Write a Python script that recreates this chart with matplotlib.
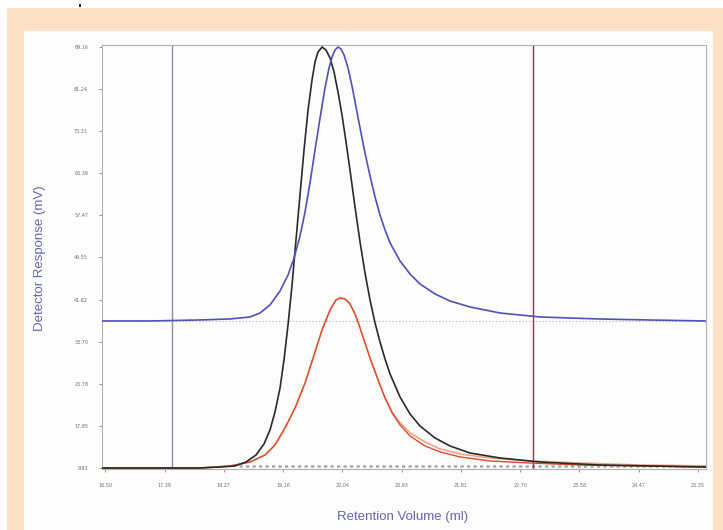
import numpy as np
import matplotlib
matplotlib.use("Agg")
import matplotlib.pyplot as plt
from matplotlib.patches import Rectangle

# tick labels
x_ticks = [16.50, 17.39, 18.27, 19.16, 20.04, 20.93, 21.81, 22.70, 23.58, 24.47, 25.35]
y_ticks = [9.93, 17.85, 25.78, 33.70, 41.62, 49.55, 57.47, 65.39, 73.31, 81.24, 89.16]

# blue trace (retention volume ml, mV)
blue_x = [16.455, 17.171, 17.918, 18.365, 18.664, 18.813, 18.962, 19.112, 19.231, 19.321,
          19.410, 19.485, 19.559, 19.634, 19.709, 19.783, 19.843, 19.888, 19.933, 19.977,
          20.022, 20.067, 20.127, 20.186, 20.246, 20.306, 20.380, 20.455, 20.530, 20.604,
          20.679, 20.754, 20.903, 21.052, 21.201, 21.425, 21.649, 21.948, 22.396, 22.993,
          23.888, 24.634, 25.469]
blue_y = [37.60, 37.60, 37.79, 37.98, 38.35, 39.10, 40.61, 43.24, 46.25, 49.45,
          53.59, 58.11, 63.57, 69.78, 75.80, 81.45, 85.21, 87.28, 88.60, 89.16,
          88.79, 87.66, 85.21, 81.82, 77.87, 73.92, 69.21, 64.88, 60.93, 57.54,
          54.72, 52.28, 48.89, 46.44, 44.56, 42.68, 41.36, 40.23, 39.10, 38.35,
          37.97, 37.78, 37.60]

# black trace
black_x = [16.455, 17.918, 18.216, 18.440, 18.604, 18.754, 18.873, 18.962, 19.037, 19.112,
           19.171, 19.231, 19.291, 19.350, 19.410, 19.470, 19.530, 19.589, 19.634, 19.679,
           19.739, 19.798, 19.858, 19.918, 19.977, 20.037, 20.097, 20.156, 20.231, 20.306,
           20.380, 20.455, 20.530, 20.604, 20.679, 20.754, 20.903, 21.052, 21.201, 21.425,
           21.649, 21.948, 22.396, 22.993, 23.888, 25.469]
black_y = [9.93, 9.93, 10.12, 10.31, 11.06, 12.38, 14.45, 17.08, 20.47, 24.99,
           30.26, 36.84, 44.37, 52.84, 61.31, 69.78, 77.31, 82.95, 86.34, 88.22,
           89.16, 88.60, 87.09, 84.46, 80.69, 76.36, 71.28, 66.01, 59.05, 52.46,
           46.63, 41.55, 37.22, 33.64, 30.44, 27.62, 23.29, 20.09, 17.83, 15.58,
           14.07, 12.75, 11.81, 11.06, 10.49, 10.12]

# red traces
red_x = [16.455, 17.918, 18.365, 18.664, 18.888, 19.037, 19.186, 19.336, 19.485, 19.634,
         19.739, 19.858, 19.948, 20.007, 20.082, 20.156, 20.231, 20.306, 20.380, 20.455,
         20.575, 20.679, 20.784, 20.903, 21.052, 21.276, 21.500, 21.798, 22.246, 22.843,
         23.589, 24.485, 25.469]
red_y = [9.93, 9.93, 10.31, 11.06, 12.38, 14.26, 17.46, 21.22, 25.93, 31.77,
         35.91, 39.67, 41.56, 41.93, 41.75, 40.80, 38.92, 36.29, 33.47, 30.64,
         26.50, 23.12, 20.30, 18.04, 15.96, 14.08, 12.95, 12.01, 11.25, 10.87,
         10.49, 10.31, 10.12]
red2_y = [9.93, 9.93, 10.31, 11.06, 12.38, 14.26, 17.46, 21.22, 25.93, 31.77,
          35.91, 39.67, 41.56, 41.93, 41.75, 40.80, 38.92, 36.29, 33.47, 30.64,
          26.50, 23.12, 20.49, 18.42, 16.53, 14.83, 13.51, 12.57, 11.81, 11.25,
          10.87, 10.49, 10.31]

marker_lines = [17.50, 22.887]
baseline_level = 37.60

fig = plt.figure(figsize=(7.23, 5.30), dpi=100)
fig.patch.set_facecolor("white")
W, H = 723, 530
# orange frame and white panel
fig.patches.append(Rectangle((7 / W, 0), 716 / W, 522 / H, transform=fig.transFigure,
                             facecolor="#fce2c3", edgecolor="none", zorder=-2))
fig.patches.append(Rectangle((24 / W, 0), 689 / W, 499 / H, transform=fig.transFigure,
                             facecolor="#fdfdfb", edgecolor="none", zorder=-1))
fig.patches.append(Rectangle((79 / W, 523 / H), 2 / W, 3 / H, transform=fig.transFigure,
                             facecolor="black", edgecolor="none"))

ax = fig.add_axes([102 / W, (530 - 469) / H, 604 / W, 424 / H])
ax.set_facecolor("#fdfdfb")
ax.set_xlim(16.455, 25.469)
ax.set_ylim(9.74, 89.54)

ax.axhline(baseline_level, color="#b0b0b0", lw=0.8, ls=(0, (1, 2)), zorder=1)
ax.plot([18.50, 25.469], [10.35, 10.35], color="#a8a8a8", lw=1.8, ls=(0, (1.3, 1.3)), zorder=1)
ax.axvline(marker_lines[0], color="#8c8cae", lw=1.0, zorder=2)
ax.axvline(marker_lines[1], color="#a02a60", lw=1.0, zorder=2)

ax.plot(red_x, red2_y, color="#f0a48c", lw=1.2, zorder=3)
ax.plot(red_x, red_y, color="#e04a2a", lw=1.0, zorder=4)
ax.plot(black_x, black_y, color="#2a2a2a", lw=1.2, zorder=5)
ax.plot(blue_x, blue_y, color="#5050c0", lw=1.2, zorder=5)

ax.set_xticks(x_ticks)
ax.set_xticklabels([f"{v:.2f}" for v in x_ticks])
ax.set_yticks(y_ticks)
ax.set_yticklabels([f"{v:.2f}" for v in y_ticks])
ax.tick_params(labelsize=3.5, colors="#707070", length=2, width=0.5, pad=8)
for s in ax.spines.values():
    s.set_color("#b0b0b0")
    s.set_linewidth(0.8)

fig.text(40 / W, 1 - 258 / H, "Detector Response (mV)", rotation=90, ha="center", va="center",
         color="#6565b5", fontsize=9.5, family="Liberation Sans")
fig.text(403 / W, 1 - 517 / H, "Retention Volume (ml)", ha="center", va="center",
         color="#6565b5", fontsize=9.5, family="Liberation Sans")

fig.savefig("out.png", dpi=100)
